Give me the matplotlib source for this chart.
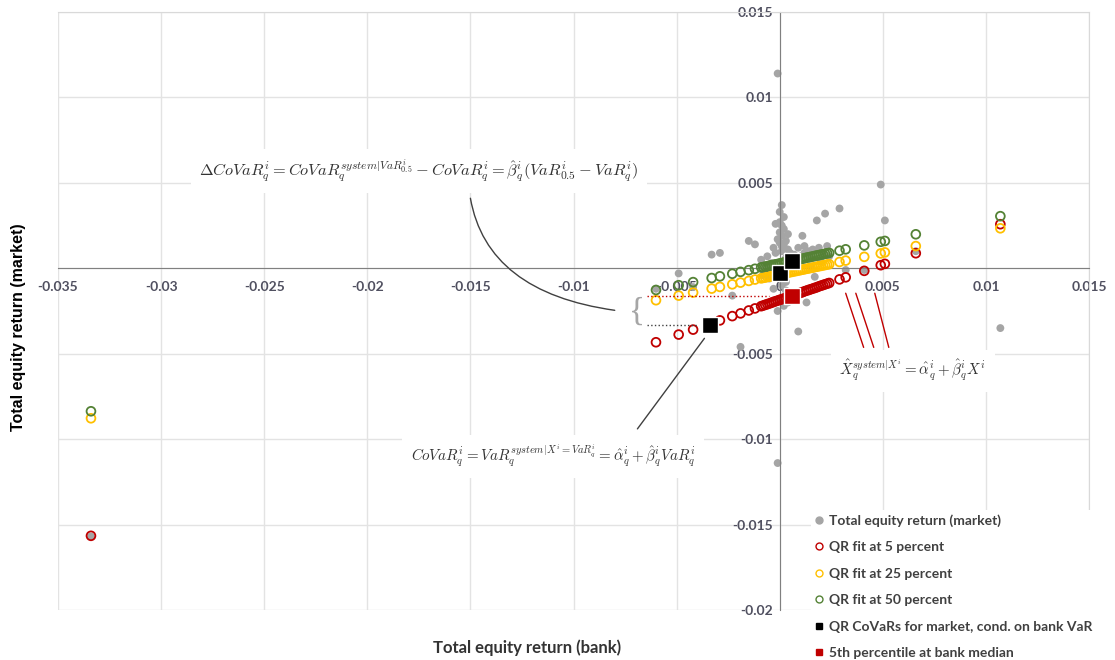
import matplotlib.pyplot as plt
from matplotlib.lines import Line2D

plt.rcParams['mathtext.fontset'] = 'cm'

# Daily total equity returns: bank (x) against market (y)
bank = [-0.0334, -0.0060, -0.0049, -0.0042, -0.0033, -0.0029, -0.0023, -0.0019,
        -0.0015, -0.0012,
        -0.0009, -0.0008, -0.0007, -0.0006, -0.0005, -0.0004, -0.0003, -0.0002,
        -0.0001, 0.0000, 0.0001, 0.0002, 0.0003, 0.0004, 0.0005, 0.0006,
        0.0007, 0.0008, 0.0009, 0.0010, 0.0011, 0.0012, 0.0013, 0.0014,
        0.0015, 0.0016, 0.0017, 0.0018, 0.0019, 0.0020, 0.0021, 0.0022,
        0.0023, 0.0024,
        -0.0001, -0.0001, 0.0001, 0.0000, 0.0002, 0.0000, 0.0001, 0.0002,
        0.0001, -0.0001, 0.0003, 0.0000, 0.0002, 0.0001, -0.0002, 0.0003,
        0.0001, 0.0000, 0.0002, -0.0001, 0.0004, 0.0003, -0.0003,
        0.0004, 0.0005, -0.0002, 0.0006, 0.0009, 0.0012, 0.0015, 0.0003,
        0.0029, 0.0032, 0.0041, 0.0049, 0.0051, 0.0066, 0.0107]
market = [-0.0157, -0.0012, -0.0003, -0.0011, 0.0008, 0.0009, -0.0016, -0.0046,
          0.0016, 0.0014,
          0.0005, -0.0004, 0.0001, 0.0007, -0.0006, 0.0003, -0.0012, 0.0009,
          -0.0002, 0.0021, 0.0013, -0.0008, 0.0006, 0.0011, 0.0004, -0.0015,
          0.0008, 0.0002, -0.0037, 0.0007, 0.0019, 0.0009, -0.0020, 0.0010,
          0.0006, 0.0011, -0.0005, 0.0028, 0.0012, 0.0004, 0.0009, 0.0032,
          0.0013, 0.0007,
          0.0114, -0.0114, 0.0037, 0.0033, 0.0030, 0.0027, 0.0025, 0.0023,
          0.0019, 0.0017, 0.0016, 0.0015, 0.0014, 0.0010, -0.0005, -0.0003,
          -0.0010, -0.0018, -0.0022, -0.0025, -0.0020, -0.0008, 0.0012,
          0.0020, 0.0009, 0.0026, 0.0001, 0.0012, 0.0013, 0.0001, -0.0013,
          0.0035, -0.0001, -0.0001, 0.0049, 0.0028, 0.0010, -0.0035]

# Quantile regression fitted market returns at each distinct bank return
fit_bank = [-0.0334, -0.0060, -0.0049, -0.0042, -0.0033, -0.0029, -0.0023, -0.0019,
            -0.0015, -0.0012,
            -0.0009, -0.0008, -0.0007, -0.0006, -0.0005, -0.0004, -0.0003, -0.0002,
            -0.0001, 0.0000, 0.0001, 0.0002, 0.0003, 0.0004, 0.0005, 0.0006,
            0.0007, 0.0008, 0.0009, 0.0010, 0.0011, 0.0012, 0.0013, 0.0014,
            0.0015, 0.0016, 0.0017, 0.0018, 0.0019, 0.0020, 0.0021, 0.0022,
            0.0023, 0.0024,
            0.0029, 0.0032, 0.0041, 0.0049, 0.0051, 0.0066, 0.0107]
fit_q05 = [-0.01566, -0.00433, -0.00388, -0.00359, -0.00321, -0.00305, -0.00280, -0.00264,
           -0.00247, -0.00235,
           -0.00222, -0.00218, -0.00214, -0.00210, -0.00206, -0.00202, -0.00197, -0.00193,
           -0.00189, -0.00185, -0.00181, -0.00177, -0.00173, -0.00168, -0.00164, -0.00160,
           -0.00156, -0.00152, -0.00148, -0.00144, -0.00140, -0.00135, -0.00131, -0.00127,
           -0.00123, -0.00119, -0.00115, -0.00111, -0.00106, -0.00102, -0.00098, -0.00094,
           -0.00090, -0.00086,
           -0.00065, -0.00053, -0.00015, 0.00018, 0.00026, 0.00088, 0.00258]
fit_q25 = [-0.00878, -0.00187, -0.00160, -0.00142, -0.00119, -0.00109, -0.00094, -0.00084,
           -0.00074, -0.00066,
           -0.00059, -0.00056, -0.00054, -0.00051, -0.00049, -0.00046, -0.00044, -0.00041,
           -0.00039, -0.00036, -0.00033, -0.00031, -0.00028, -0.00026, -0.00023, -0.00021,
           -0.00018, -0.00016, -0.00013, -0.00011, -0.00008, -0.00006, -0.00003, -0.00001,
           0.00002, 0.00004, 0.00007, 0.00009, 0.00012, 0.00014, 0.00017, 0.00019,
           0.00022, 0.00024,
           0.00037, 0.00045, 0.00067, 0.00087, 0.00093, 0.00130, 0.00234]
fit_q50 = [-0.00837, -0.00127, -0.00099, -0.00081, -0.00057, -0.00047, -0.00032, -0.00021,
           -0.00011, -0.00003,
           0.00005, 0.00007, 0.00010, 0.00012, 0.00015, 0.00018, 0.00020, 0.00023,
           0.00025, 0.00028, 0.00031, 0.00033, 0.00036, 0.00038, 0.00041, 0.00044,
           0.00046, 0.00049, 0.00051, 0.00054, 0.00056, 0.00059, 0.00062, 0.00064,
           0.00067, 0.00069, 0.00072, 0.00075, 0.00077, 0.00080, 0.00082, 0.00085,
           0.00088, 0.00090,
           0.00103, 0.00111, 0.00134, 0.00155, 0.00160, 0.00199, 0.00305]

# CoVaRs: bank VaR at 5, 25 and 50 percent and the matching fitted market value
covar_bank = [-0.0034, 0.0000, 0.0006]
covar_market = [-0.0033, -0.0003, 0.00045]
median_bank = [0.0006]
median_q05 = [-0.0016]

x_ticks = [-0.035, -0.03, -0.025, -0.02, -0.015, -0.01, -0.005, 0, 0.005, 0.01, 0.015]
x_labels = ['-0.035', '-0.03', '-0.025', '-0.02', '-0.015', '-0.01', '-0.005', '0',
            '0.005', '0.01', '0.015']
y_ticks = [-0.02, -0.015, -0.01, -0.005, 0, 0.005, 0.01, 0.015]
y_labels = ['-0.02', '-0.015', '-0.01', '-0.005', '0', '0.005', '0.01', '0.015']

series_labels = ['Total equity return (market)', 'QR fit at 5 percent',
                 'QR fit at 25 percent', 'QR fit at 50 percent',
                 'QR CoVaRs for market, cond. on bank VaR',
                 '5th percentile at bank median']

GRAY = '#A5A5A5'
RED = '#C00000'
YELLOW = '#FFC000'
GREEN = '#548235'
TXT = '#404040'

fig = plt.figure(figsize=(11.15, 6.6), dpi=100)
ax = fig.add_axes([0.052, 0.0758, 0.9247, 0.906])
ax.set_xlim(-0.035, 0.015)
ax.set_ylim(-0.02, 0.015)

# Axes crossing at zero, light frame and grid
ax.spines['left'].set_position(('data', 0))
ax.spines['bottom'].set_position(('data', 0))
ax.spines['left'].set_color('#808080')
ax.spines['bottom'].set_color('#808080')
ax.spines['top'].set_color('#D9D9D9')
ax.spines['right'].set_color('#D9D9D9')
ax.set_xticks(x_ticks)
ax.set_xticklabels(x_labels)
ax.set_yticks(y_ticks)
ax.set_yticklabels(y_labels)
ax.grid(True, color='#E3E3E3', lw=1)
ax.set_axisbelow(True)
ax.tick_params(axis='both', length=0, labelsize=10, labelcolor='#505060')
ax.tick_params(axis='x', pad=9)
ax.tick_params(axis='y', pad=5)
for lbl in ax.get_xticklabels() + ax.get_yticklabels():
    lbl.set_fontfamily('Lato')
    lbl.set_fontweight('bold')

# Data series
ax.scatter(bank, market, s=32, color=GRAY, edgecolors='none', zorder=2)
ax.scatter(fit_bank, fit_q05, s=40, facecolors='none', edgecolors=RED, linewidths=1.3, zorder=3)
ax.scatter(fit_bank, fit_q25, s=40, facecolors='none', edgecolors=YELLOW, linewidths=1.3, zorder=3)
ax.scatter(fit_bank, fit_q50, s=40, facecolors='none', edgecolors=GREEN, linewidths=1.3, zorder=3)
ax.scatter(covar_bank, covar_market, s=130, marker='s', color='black',
           edgecolors='white', linewidths=1, zorder=5)
ax.scatter(median_bank, median_q05, s=130, marker='s', color=RED,
           edgecolors='white', linewidths=1, zorder=5)

# Dotted guides and brace for Delta CoVaR
ax.hlines(median_q05[0], -0.00645, -0.0005, colors=RED, linestyles=':', lw=1, zorder=4)
ax.hlines(covar_market[0], -0.00645, -0.0040, colors=TXT, linestyles=':', lw=1, zorder=4)
ax.text(-0.0069, -0.00255, '{', fontsize=24, color='#A6A6A6', ha='center', va='center',
        family='Liberation Serif', zorder=4)

box = dict(facecolor='white', edgecolor='none', pad=6)

# Formula annotations
ax.text(-0.0175, 0.0057,
        r'$\Delta CoVaR_q^i = CoVaR_q^{system|VaR_{0.5}^i} - CoVaR_q^i'
        r' = \hat{\beta}_q^i(VaR_{0.5}^i - VaR_q^i)$',
        fontsize=11.8, color='#333333', ha='center', va='center', bbox=box, zorder=6)
ax.annotate('', xy=(-0.0080, -0.00246), xytext=(-0.0150, 0.0041),
            arrowprops=dict(arrowstyle='-', color=TXT, lw=1, shrinkA=0, shrinkB=0,
                            connectionstyle='angle3,angleA=-80,angleB=-8'), zorder=6)

ax.text(-0.0110, -0.0110,
        r'$CoVaR_q^i = VaR_q^{system|X^i=VaR_q^i} = \hat{\alpha}_q^i + \hat{\beta}_q^i VaR_q^i$',
        fontsize=10.8, color='#333333', ha='center', va='center', bbox=box, zorder=6)
ax.annotate('', xy=(-0.00365, -0.0041), xytext=(-0.0069, -0.0094),
            arrowprops=dict(arrowstyle='-', color=TXT, lw=1, shrinkA=0, shrinkB=0), zorder=6)

ax.text(0.00645, -0.0060,
        r'$\hat{X}_q^{system|X^i} = \hat{\alpha}_q^i + \hat{\beta}_q^i X^i$',
        fontsize=10.8, color='#333333', ha='center', va='center', bbox=box, zorder=6)
for x0, x1 in [(0.0032, 0.00407), (0.00369, 0.00456), (0.00461, 0.00529)]:
    ax.annotate('', xy=(x0, -0.00146), xytext=(x1, -0.00463),
                arrowprops=dict(arrowstyle='-', color=RED, lw=1, shrinkA=0, shrinkB=0),
                zorder=6)

# Axis titles
fig.text(527 / 1115, 1 - 648 / 660, 'Total equity return (bank)', ha='center', va='center',
         fontsize=12, fontweight='bold', family='Lato', color='#333333')
fig.text(19 / 1115, 1 - 327 / 660, 'Total equity return (market)', ha='center', va='center',
         rotation=90, fontsize=11.5, fontweight='bold', family='Liberation Sans', color='black')

# Legend
handles = [
    Line2D([], [], ls='none', marker='o', ms=5, mfc=GRAY, mec=GRAY),
    Line2D([], [], ls='none', marker='o', ms=5, mfc='none', mec=RED, mew=1),
    Line2D([], [], ls='none', marker='o', ms=5, mfc='none', mec=YELLOW, mew=1),
    Line2D([], [], ls='none', marker='o', ms=5, mfc='none', mec=GREEN, mew=1),
    Line2D([], [], ls='none', marker='s', ms=5, mfc='black', mec='black'),
    Line2D([], [], ls='none', marker='s', ms=5, mfc=RED, mec=RED),
]
fig.legend(handles, series_labels, loc='upper left', bbox_to_anchor=(804 / 1115, 1 - 503 / 660),
           frameon=True, facecolor='white', edgecolor='none', framealpha=1,
           prop={'family': 'Lato', 'weight': 'bold', 'size': 10}, labelcolor=TXT,
           labelspacing=1.04, handlelength=0.6, handletextpad=0.4, borderpad=0.3)

fig.savefig('out.png', dpi=100)
